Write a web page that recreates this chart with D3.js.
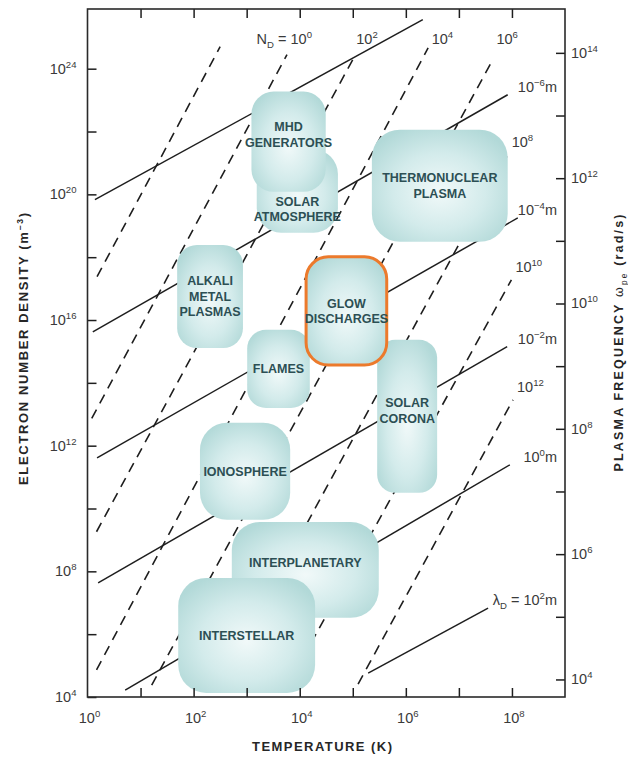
<!DOCTYPE html>
<html>
<head>
<meta charset="utf-8">
<script src="https://cdn.jsdelivr.net/npm/d3@7"></script>
<style>
  html, body { margin: 0; padding: 0; background: #fff; }
  svg { display: block; font-family: "Liberation Sans", Arial, Helvetica, sans-serif; }
</style>
</head>
<body>
<svg id="chart" width="628" height="757"></svg>
<script>
// ─── data (log10 values) ─────────────────────────────────────────────────────
// Debye-number lines (dashed): log10 T / log10 n at both ends
const ndExp       = [-2, 0, 2, 4, 6, 8, 10, 12];
const ndStartLogT = [0.18, 0.08, 0.17, 0.17, 1.21, 2.45, 3.75, 5.10];
const ndStartLogN = [17.38, 12.87, 9.26, 4.86, 4.38, 4.30, 4.30, 4.41];
const ndEndLogT   = [2.50, 3.76, 5.00, 6.42, 7.64, 7.92, 7.99, 8.02];
const ndEndLogN   = [24.70, 24.45, 24.29, 24.66, 24.29, 21.26, 17.28, 13.46];
const ndShowLabel = [false, true, true, true, true, true, true, true];

// Debye-length lines (solid)
const ldExp       = [-8, -6, -4, -2, 0, 2];
const ldStartLogT = [0.14, 0.10, 0.18, 0.20, 0.71, 5.29];
const ldStartLogN = [19.83, 15.62, 11.61, 7.63, 4.22, 4.76];
const ldEndLogT   = [6.32, 7.92, 8.11, 7.91, 7.96, 7.55];
const ldEndLogN   = [25.56, 23.17, 19.25, 15.15, 11.39, 6.83];
const ldShowLabel = [false, true, true, true, true, true];

// plasma regions: log10 T range and log10 n range (drawn in this order)
const regionNames = [
  ['INTERPLANETARY'], ['INTERSTELLAR'], ['IONOSPHERE'], ['FLAMES'],
  ['ALKALI', 'METAL', 'PLASMAS'], ['SOLAR', 'CORONA'], ['GLOW', 'DISCHARGES'],
  ['SOLAR', 'ATMOSPHERE'], ['MHD', 'GENERATORS'], ['THERMONUCLEAR', 'PLASMA']
];
const regionLogT0 = [2.72, 1.71, 2.12, 3.01, 1.69, 5.46, 4.12, 3.19, 3.09, 5.36];
const regionLogT1 = [5.49, 4.29, 3.82, 4.19, 2.93, 6.59, 5.64, 4.72, 4.49, 7.92];
const regionLogN0 = [6.52, 4.13, 9.64, 13.20, 15.11, 10.50, 14.57, 18.78, 20.08, 18.49];
const regionLogN1 = [9.57, 7.79, 12.73, 15.69, 18.39, 15.37, 18.01, 21.42, 23.27, 22.06];
const highlighted = 'GLOW';

// axis ticks (exponents)
const xTickExp   = [1, 2, 3, 4, 5, 6, 7, 8];
const xLabelExp  = [0, 2, 4, 6, 8];
const yTickExp   = [4, 6, 8, 10, 12, 14, 16, 18, 20, 22, 24];
const yLabelExp  = [4, 8, 12, 16, 20, 24];
const wTickExp   = [4, 5, 6, 7, 8, 9, 10, 11, 12, 13, 14];
const wLabelExp  = [4, 6, 8, 10, 12, 14];

// ─── layout ───────────────────────────────────────────────────────────────────
const L = 87.5, R = 565, T = 9, B = 697;
const P = v => Math.pow(10, v);

const x  = d3.scaleLog().domain([1, 1e9]).range([L, R]);
const y  = d3.scaleLog().domain([1e4, P(25.9)]).range([B, T]);
const yW = d3.scaleLog().domain([P(3.72), P(14.7)]).range([B, T]);

const svg = d3.select('#chart');
const ink = '#1e1e1e';
const txt = '#3a3a3a';
const FS  = 14.5;

const defs = svg.append('defs');
defs.append('clipPath').attr('id', 'plot-clip')
  .append('rect').attr('x', L).attr('y', T).attr('width', R - L).attr('height', B - T);

const grad = defs.append('radialGradient').attr('id', 'region-fill')
  .attr('cx', '50%').attr('cy', '55%').attr('r', '62%');
grad.append('stop').attr('offset', '0%').attr('stop-color', '#f1f9f9');
grad.append('stop').attr('offset', '55%').attr('stop-color', '#d3ebeb');
grad.append('stop').attr('offset', '100%').attr('stop-color', '#b2d9d8');

// rich text helper: segs = [[text, 0 | 1 (sup) | -1 (sub)], ...]
function rich(sel, segs, fs) {
  let cur = 0;
  segs.forEach(([t, s]) => {
    const target = s === 1 ? -fs * 0.42 : s === -1 ? fs * 0.28 : 0;
    sel.append('tspan')
      .attr('dy', (target - cur).toFixed(2))
      .attr('font-size', s ? fs * 0.66 : fs)
      .text(t);
    cur = target;
  });
  return sel;
}

// ─── lines ────────────────────────────────────────────────────────────────────
const lines = svg.append('g').attr('clip-path', 'url(#plot-clip)');

ndExp.forEach((e, i) => {
  lines.append('line')
    .attr('x1', x(P(ndStartLogT[i]))).attr('y1', y(P(ndStartLogN[i])))
    .attr('x2', x(P(ndEndLogT[i]))).attr('y2', y(P(ndEndLogN[i])))
    .attr('stroke', ink).attr('stroke-width', 1.6)
    .attr('stroke-dasharray', '10,7');
});

ldExp.forEach((e, i) => {
  lines.append('line')
    .attr('x1', x(P(ldStartLogT[i]))).attr('y1', y(P(ldStartLogN[i])))
    .attr('x2', x(P(ldEndLogT[i]))).attr('y2', y(P(ldEndLogN[i])))
    .attr('stroke', ink).attr('stroke-width', 1.5);
});

// ─── regions ──────────────────────────────────────────────────────────────────
const labelShift = { MHD: -7, 'SOLAR ATMOSPHERE': 18, INTERPLANETARY: -7, 'SOLAR CORONA': -6 };

regionNames.forEach((name, i) => {
  const x0 = x(P(regionLogT0[i])), x1 = x(P(regionLogT1[i]));
  const y0 = y(P(regionLogN1[i])), y1 = y(P(regionLogN0[i]));
  const w = x1 - x0, h = y1 - y0;
  const r = Math.min(28, w * 0.3, h * 0.3);
  const g = svg.append('g');
  g.append('rect')
    .attr('x', x0).attr('y', y0).attr('width', w).attr('height', h)
    .attr('rx', r).attr('ry', r)
    .attr('fill', 'url(#region-fill)');
  if (name[0] === highlighted) {
    g.append('rect')
      .attr('x', x0).attr('y', y0).attr('width', w).attr('height', h)
      .attr('rx', r - 2).attr('ry', r - 2)
      .attr('fill', 'none').attr('stroke', '#ec7a2c').attr('stroke-width', 3);
  }
  const key = name.join(' ');
  const shift = labelShift[key] ?? labelShift[name[0]] ?? 0;
  const lh = 15.5;
  const cy = (y0 + y1) / 2 + shift - (name.length - 1) * lh / 2 + 4.5;
  name.forEach((ln, k) => {
    g.append('text')
      .attr('x', (x0 + x1) / 2).attr('y', cy + k * lh)
      .attr('text-anchor', 'middle')
      .attr('font-size', 12.5).attr('font-weight', 'bold')
      .attr('fill', '#2c4f54')
      .text(ln);
  });
});

// ─── line labels ──────────────────────────────────────────────────────────────
const lbl = svg.append('g').attr('fill', txt);

ndExp.forEach((e, i) => {
  if (!ndShowLabel[i]) return;
  const ex = x(P(ndEndLogT[i])), ey = y(P(ndEndLogN[i]));
  const atTop = ey < 90;
  const t = lbl.append('text')
    .attr('x', atTop ? ex + 25 : ex + 4)
    .attr('y', atTop ? 44 : ey - 8)
    .attr('text-anchor', atTop ? 'end' : 'start');
  const segs = e === 0
    ? [['N', 0], ['D', -1], [' = 10', 0], [String(e), 1]]
    : [['10', 0], [String(e), 1]];
  rich(t, segs, FS);
});

ldExp.forEach((e, i) => {
  if (!ldShowLabel[i]) return;
  const ey = y(P(ldEndLogN[i]));
  const t = lbl.append('text')
    .attr('x', 557).attr('y', ey - 3)
    .attr('text-anchor', 'end');
  const exTxt = e < 0 ? '\u2212' + Math.abs(e) : String(e);
  const segs = e === 2
    ? [['\u03bb', 0], ['D', -1], [' = 10', 0], [exTxt, 1], ['m', 0]]
    : [['10', 0], [exTxt, 1], ['m', 0]];
  rich(t, segs, FS);
});

// ─── axes ─────────────────────────────────────────────────────────────────────
const tickStyle = g => {
  g.select('.domain').remove();
  g.selectAll('.tick line').attr('stroke', ink).attr('stroke-width', 1.5);
  g.selectAll('.tick text').remove();
};

svg.append('g').attr('transform', `translate(0,${B})`)
  .call(d3.axisBottom(x).tickValues(xTickExp.map(P)).tickSize(-9)).call(tickStyle);
svg.append('g').attr('transform', `translate(0,${T})`)
  .call(d3.axisTop(x).tickValues(xTickExp.map(P)).tickSize(-9)).call(tickStyle);
svg.append('g').attr('transform', `translate(${L},0)`)
  .call(d3.axisLeft(y).tickValues(yTickExp.map(P)).tickSize(-9)).call(tickStyle);
svg.append('g').attr('transform', `translate(${R},0)`)
  .call(d3.axisRight(yW).tickValues(wTickExp.map(P)).tickSize(-9)).call(tickStyle);

svg.append('rect')
  .attr('x', L).attr('y', T).attr('width', R - L).attr('height', B - T)
  .attr('fill', 'none').attr('stroke', '#2a2a2a').attr('stroke-width', 1.6);

const tl = svg.append('g').attr('fill', txt);
xLabelExp.forEach(e => {
  rich(tl.append('text').attr('x', x(P(e)) + 2).attr('y', 723).attr('text-anchor', 'middle'),
    [['10', 0], [String(e), 1]], FS);
});
yLabelExp.forEach(e => {
  rich(tl.append('text').attr('x', L - 11).attr('y', y(P(e)) + 5).attr('text-anchor', 'end'),
    [['10', 0], [String(e), 1]], FS);
});
wLabelExp.forEach(e => {
  rich(tl.append('text').attr('x', R + 6).attr('y', yW(P(e)) + 5).attr('text-anchor', 'start'),
    [['10', 0], [String(e), 1]], FS);
});

// ─── axis titles ──────────────────────────────────────────────────────────────
const ttl = svg.append('g').attr('fill', '#262626').attr('font-weight', 'bold');

ttl.append('text')
  .attr('x', 322).attr('y', 751).attr('text-anchor', 'middle')
  .attr('font-size', 13)
  .attr('textLength', 140).attr('lengthAdjust', 'spacing')
  .text('TEMPERATURE  (K)');

rich(ttl.append('text')
  .attr('transform', 'translate(28,349) rotate(-90)').attr('text-anchor', 'middle')
  .attr('textLength', 272).attr('lengthAdjust', 'spacing'),
  [['ELECTRON  NUMBER  DENSITY  (m', 0], ['\u22123', 1], [')', 0]], 13);

const wt = ttl.append('text')
  .attr('transform', 'translate(623,343) rotate(-90)').attr('text-anchor', 'middle')
  .attr('textLength', 257).attr('lengthAdjust', 'spacing');
rich(wt, [['PLASMA  FREQUENCY  ', 0], ['\u03c9', 0], ['pe', -1], ['  (rad/s)', 0]], 12.5);
wt.selectAll('tspan').filter((d, i) => i === 1 || i === 2).attr('font-weight', 'normal');
</script>
</body>
</html>
